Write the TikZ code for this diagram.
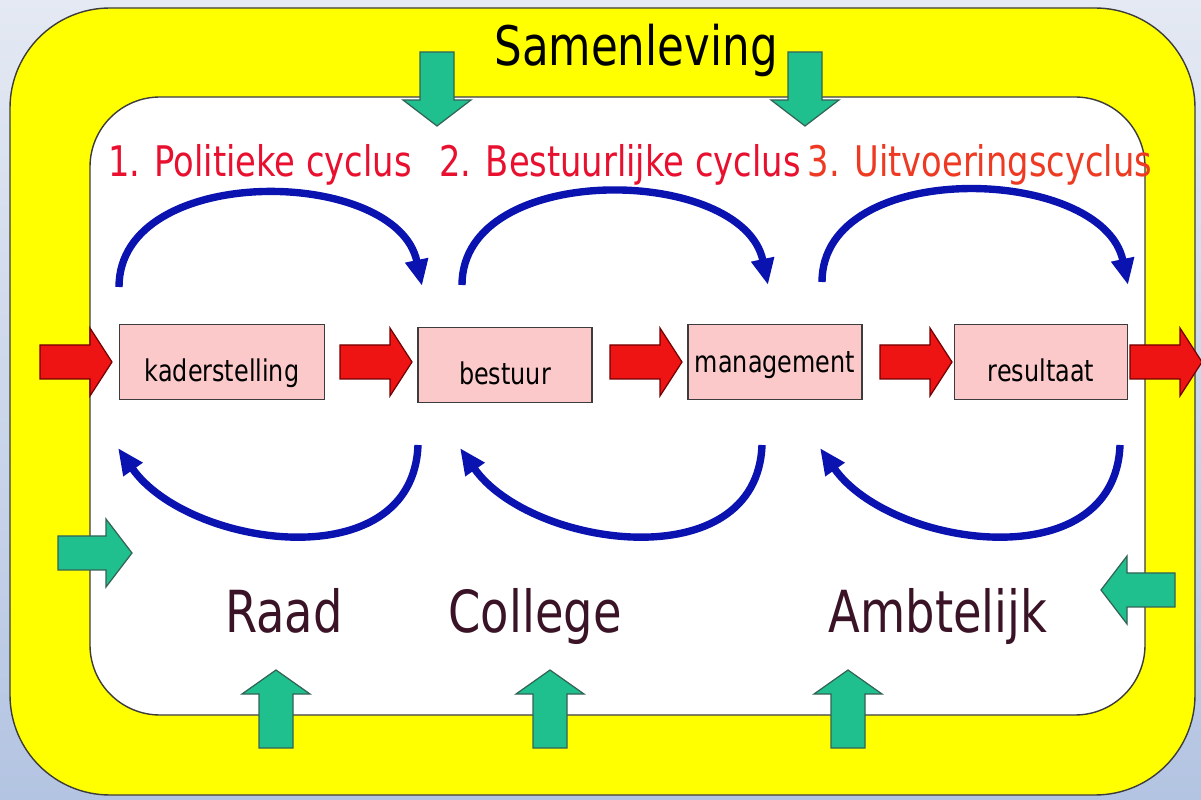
\documentclass[tikz,border=0pt]{standalone}
\usepackage{fontspec}
\setmainfont{DejaVu Sans}[FakeStretch=0.8]
\usetikzlibrary{arrows.meta}
\definecolor{backtop}{HTML}{E4E9F3}
\definecolor{backbot}{HTML}{B3C4E2}
\definecolor{samyellow}{HTML}{FFFF00}
\definecolor{frameline}{HTML}{3C3C3C}
\definecolor{cycred}{HTML}{E8102E}
\definecolor{cycorange}{HTML}{EE3A22}
\definecolor{arcblue}{HTML}{0A12B0}
\definecolor{inputgreen}{HTML}{1FBF8E}
\definecolor{flowred}{HTML}{EE1414}
\definecolor{boxpink}{HTML}{FBC9C9}
\definecolor{actorbrown}{HTML}{3A1426}
\tikzset{>={Triangle[length=15pt,width=12.5pt]}}
\tikzset{
  stagebox/.style={draw=frameline,fill=boxpink,line width=0.8pt,minimum height=1.5cm,inner sep=0pt,text height=22pt,text depth=0pt,font=\fontsize{17}{20}\selectfont},
  cycletitle/.style={anchor=base,font=\fontsize{24}{28}\selectfont},
  actor/.style={anchor=base,text=actorbrown,font=\fontsize{33}{38}\selectfont},
  cyclearc/.style={->,arcblue,line width=4.2pt},
  greenarr/.style={fill=inputgreen,draw=frameline!70!inputgreen,line width=0.7pt},
  redarr/.style={fill=flowred,draw=red!45!black,line width=0.7pt}
}
% style, base point, direction, shaft length, head length
\newcommand{\blockarrow}[5]{\filldraw[#1,shift={#2},rotate=#3] (0,-17) -- (#4,-17) -- (#4,-34) -- (#4+#5,0) -- (#4,34) -- (#4,17) -- (0,17) -- cycle;}

\begin{document}
\begin{tikzpicture}[x={(0.02cm,0cm)},y={(0cm,-0.02cm)}]
      \useasboundingbox (0,0) rectangle (1201,800);
      \shade[top color=backtop,bottom color=backbot] (0,0) rectangle (1201,800);
      % society frame and inner field
      \filldraw[draw=frameline,fill=samyellow,line width=0.8pt,rounded corners=2cm] (10,8) rectangle (1195,795);
      \filldraw[draw=frameline,fill=white,line width=0.8pt,rounded corners=1.4cm] (90,97) rectangle (1145,715);
      % inputs from society
      \blockarrow{greenarr}{(437,52)}{-90}{48}{26}
      \blockarrow{greenarr}{(805,52)}{-90}{48}{26}
      \blockarrow{greenarr}{(58,553)}{0}{48}{26}
      \blockarrow{greenarr}{(1175,590)}{180}{48}{26}
      \blockarrow{greenarr}{(276,748)}{90}{54}{24}
      \blockarrow{greenarr}{(550,748)}{90}{54}{24}
      \blockarrow{greenarr}{(848,748)}{90}{54}{24}
      % main flow
      \blockarrow{redarr}{(40,362)}{0}{50}{22}
      \blockarrow{redarr}{(340,362)}{0}{50}{22}
      \blockarrow{redarr}{(610,362)}{0}{50}{22}
      \blockarrow{redarr}{(880,362)}{0}{50}{22}
      \blockarrow{redarr}{(1130,362)}{0}{50}{22}
      \node[stagebox,minimum width=4.1cm] (kader) at (222,362) {kaderstelling};
      \node[stagebox,minimum width=3.48cm] (bestuur) at (505,365) {bestuur};
      \node[stagebox,minimum width=3.48cm,text height=12pt] (mgmt) at (775,362) {management};
      \node[stagebox,minimum width=3.46cm] (result) at (1041,362) {resultaat};
      % texts
      \node[anchor=base,font=\fontsize{31}{36}\selectfont] (samen) at (636,66) {Samenleving};
      \node[cycletitle,text=cycred] (politiek) at (260,177) {1. Politieke cyclus};
      \node[cycletitle,text=cycred] (bestuurlijk) at (620,177) {2. Bestuurlijke cyclus};
      \node[cycletitle,text=cycorange] (uitvoering) at (980,177) {3. Uitvoeringscyclus};
      \node[actor] (raad) at (284,632) {Raad};
      \node[actor] (college) at (535,632) {College};
      \node[actor] (ambt) at (938,632) {Ambtelijk};
      % cycles
      \coordinate (pol-up) at (119,287);
      \coordinate (pol-in) at (422,286);
      \coordinate (pol-down) at (418,445);
      \coordinate (pol-back) at (118,448);
      \coordinate (best-up) at (462,285);
      \coordinate (best-in) at (768,285);
      \coordinate (best-down) at (762,445);
      \coordinate (best-back) at (460,448);
      \coordinate (uitv-up) at (822,282);
      \coordinate (uitv-in) at (1128,285);
      \coordinate (uitv-down) at (1120,445);
      \coordinate (uitv-back) at (820,448);
      \draw[cyclearc] (pol-up) .. controls +(0,-125) and +(-25,-120) .. (pol-in);
      \draw[cyclearc] (best-up) .. controls +(0,-125) and +(-25,-120) .. (best-in);
      \draw[cyclearc] (uitv-up) .. controls +(0,-125) and +(-25,-120) .. (uitv-in);
      \draw[cyclearc] (pol-down) .. controls +(-5,135) and +(70,100) .. (pol-back);
      \draw[cyclearc] (best-down) .. controls +(-5,135) and +(70,100) .. (best-back);
      \draw[cyclearc] (uitv-down) .. controls +(-5,135) and +(70,100) .. (uitv-back);
    \end{tikzpicture}
\end{document}
